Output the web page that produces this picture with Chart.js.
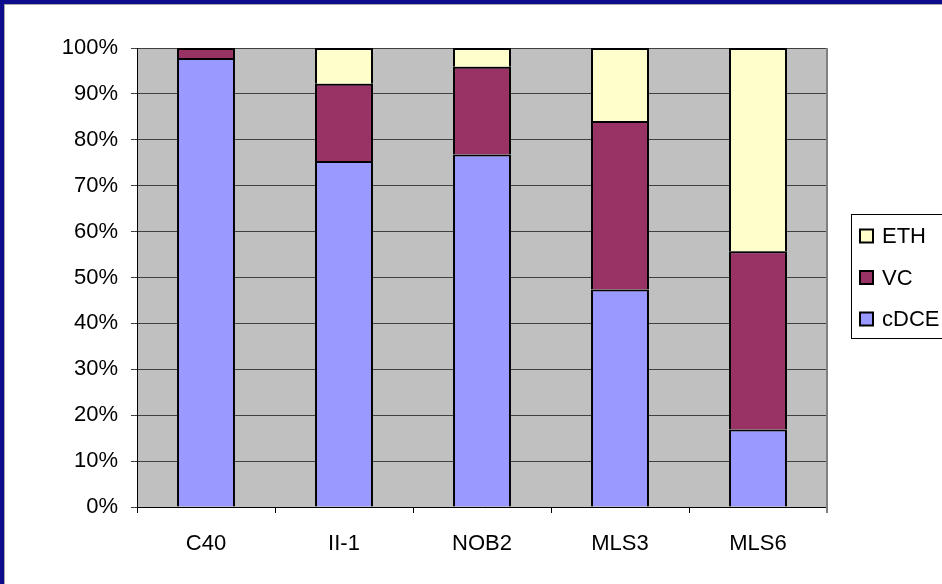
<!DOCTYPE html>
<html>
<head>
<meta charset="utf-8">
<script src="https://cdn.jsdelivr.net/npm/chart.js@4/dist/chart.umd.min.js"></script>
<style>
  html, body { margin: 0; padding: 0; background: #fff; }
  #wrap { width: 942px; height: 584px; position: relative; }
</style>
</head>
<body>
<div id="wrap"><canvas id="chart" width="942" height="584"></canvas></div>
<script>
// Sample sites and percentage composition of each
const sites = ['C40', 'II-1', 'NOB2', 'MLS3', 'MLS6'];
const cdce = [97.8, 75.4, 76.8, 47.4, 16.9];
const vc = [2.2, 16.8, 19.1, 36.7, 38.8];
const eth = [0, 7.8, 4.1, 15.9, 44.3];

const FONT = 'Arial, "Liberation Sans", sans-serif';

// white page, blue frame, grey plot area
const backdrop = {
    id: 'backdrop',
    beforeDraw(chart) {
        const ctx = chart.ctx;
        const a = chart.chartArea;
        ctx.save();
        ctx.fillStyle = '#fff';
        ctx.fillRect(0, 0, chart.width, chart.height);
        ctx.fillStyle = '#0c0c8c';
        ctx.fillRect(0, 0, chart.width, 4);
        ctx.fillRect(0, 0, 4, chart.height);
        ctx.fillStyle = '#a8a8a8';
        ctx.fillRect(4, 4, chart.width - 4, 1);
        ctx.fillRect(4, 4, 1, chart.height - 4);
        ctx.fillStyle = '#c0c0c0';
        ctx.fillRect(a.left, a.top, a.right - a.left, a.bottom - a.top);
        ctx.restore();
    },
    afterDatasetsDraw(chart) {
        const ctx = chart.ctx;
        const a = chart.chartArea;
        ctx.save();
        ctx.strokeStyle = '#808080';
        ctx.lineWidth = 2;
        ctx.beginPath();
        ctx.moveTo(a.right, a.top);
        ctx.lineTo(a.right, a.bottom + 6);
        ctx.stroke();
        ctx.restore();
    }
};

// legend box on the right, items listed top-down ETH, VC, cDCE
const sideLegend = {
    id: 'sideLegend',
    afterDraw(chart) {
        const ctx = chart.ctx;
        ctx.save();
        ctx.strokeStyle = '#000';
        ctx.lineWidth = 1;
        ctx.strokeRect(851.5, 214.5, 120, 124);
        const items = chart.data.datasets.slice().reverse();
        ctx.font = '22px ' + FONT;
        ctx.textBaseline = 'middle';
        ctx.textAlign = 'left';
        items.forEach((ds, i) => {
            const cy = 236 + i * 41.5;
            ctx.fillStyle = ds.backgroundColor;
            ctx.fillRect(860, cy - 6.5, 13, 13);
            ctx.strokeStyle = '#000';
            ctx.lineWidth = 2;
            ctx.strokeRect(860, cy - 6.5, 13, 13);
            ctx.fillStyle = '#000';
            ctx.fillText(ds.label, 882, cy + 1);
        });
        ctx.restore();
    }
};

function makeSet(label, data, color) {
    return {
        label: label,
        data: data,
        backgroundColor: color,
        borderColor: '#000',
        borderWidth: 2,
        barPercentage: 0.42,
        categoryPercentage: 1.0
    };
}

new Chart(document.getElementById('chart'), {
    type: 'bar',
    data: {
        labels: sites,
        datasets: [
            makeSet('cDCE', cdce, '#9999ff'),
            makeSet('VC', vc, '#993366'),
            makeSet('ETH', eth, '#ffffcc')
        ]
    },
    options: {
        responsive: false,
        animation: false,
        layout: { padding: { top: 48, right: 115, bottom: 0, left: 0 } },
        plugins: {
            legend: { display: false },
            tooltip: { enabled: false }
        },
        scales: {
            x: {
                stacked: true,
                afterFit(s) { s.height = 77; },
                grid: { drawOnChartArea: false, drawTicks: true, tickLength: 6, color: '#000', offset: true },
                border: { color: '#000', width: 1 },
                ticks: { color: '#000', padding: 18, font: { family: FONT, size: 22 } }
            },
            y: {
                stacked: true,
                min: 0,
                max: 100,
                afterFit(s) { s.width = 137; },
                grid: { color: '#404040', lineWidth: 1, tickLength: 6 },
                border: { color: '#000', width: 1 },
                ticks: {
                    stepSize: 10,
                    color: '#000',
                    padding: 13,
                    font: { family: FONT, size: 22 },
                    callback: v => v + '%'
                }
            }
        }
    },
    plugins: [backdrop, sideLegend]
});
</script>
</body>
</html>
